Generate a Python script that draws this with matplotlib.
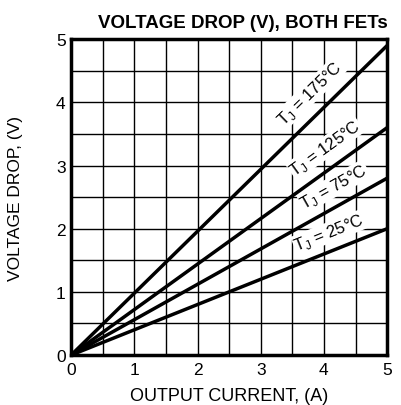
import numpy as np
import matplotlib as mpl
import matplotlib.pyplot as plt

mpl.rcParams['font.family'] = ['Liberation Sans', 'DejaVu Sans']

# data: output current (A) vs voltage drop (V), both FETs
current = [0, 5]
temps = ['175', '125', '75', '25']
vdrop_end = {'175': [0, 4.9], '125': [0, 3.6], '75': [0, 2.8], '25': [0, 2.0]}
label_pos = {'175': (3.78, 4.15), '125': (4.02, 3.28), '75': (4.16, 2.67), '25': (4.08, 1.94)}

fig = plt.figure(figsize=(4.02, 4.06), dpi=100)
ax = fig.add_axes([0.177, 0.123, 0.786, 0.778])

ax.set_xlim(0, 5)
ax.set_ylim(0, 5)
ax.set_xticks(np.arange(0, 5.01, 0.5), minor=True)
ax.set_yticks(np.arange(0, 5.01, 0.5), minor=True)
ax.set_xticks(range(6))
ax.set_yticks(range(6))
ax.grid(which='both', color='black', linewidth=1.0)
ax.tick_params(which='both', length=0, labelsize=12.5)
ax.tick_params(axis='x', pad=5)
ax.tick_params(axis='y', pad=4)
for s in ax.spines.values():
    s.set_linewidth(2.5)

for t in temps:
    ax.plot(current, vdrop_end[t], color='black', linewidth=2.5, solid_capstyle='butt')

# rotation angles from the line slopes in display space
fig.canvas.draw()
for t in temps:
    p0 = ax.transData.transform((current[0], vdrop_end[t][0]))
    p1 = ax.transData.transform((current[1], vdrop_end[t][1]))
    ang = np.degrees(np.arctan2(p1[1] - p0[1], p1[0] - p0[0]))
    x, y = label_pos[t]
    ax.text(x, y, r'T$_{\mathregular{J}}$ = ' + t + '°C', rotation=ang,
            rotation_mode='anchor', ha='center', va='center', fontsize=12,
            bbox=dict(facecolor='white', edgecolor='none', pad=0.5), zorder=3)

ax.set_xlabel('OUTPUT CURRENT, (A)', fontsize=13, labelpad=7)
ax.set_ylabel('VOLTAGE DROP, (V)', fontsize=12.5)
ax.yaxis.set_label_coords(-0.152, 0.5)
ax.set_title('VOLTAGE DROP (V), BOTH FETs', fontsize=13.5, fontweight='bold', pad=9, x=0.543)

fig.savefig('out.png', dpi=100)
